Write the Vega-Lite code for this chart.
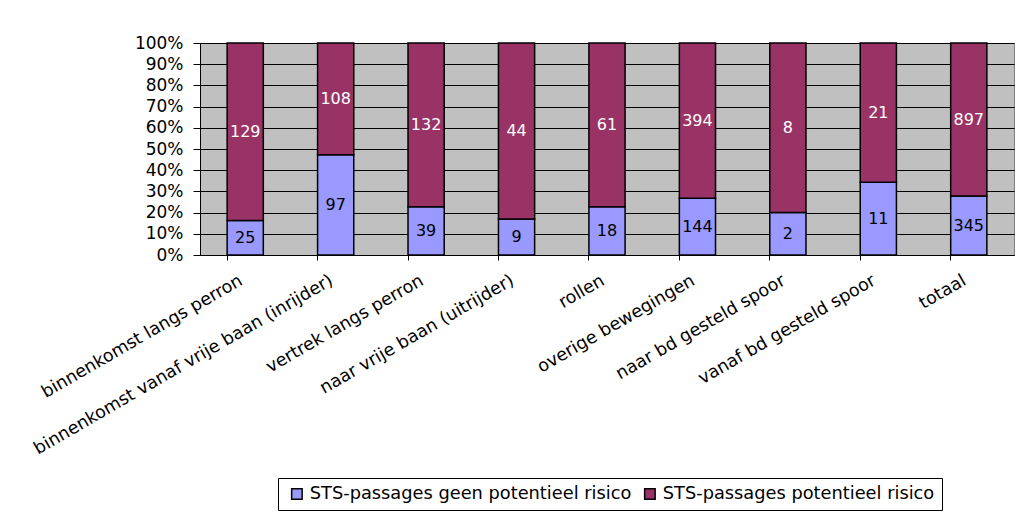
{
  "$schema": "https://vega.github.io/schema/vega-lite/v6.json",
  "width": 814,
  "height": 212,
  "autosize": {"type": "none"},
  "padding": {"left": 200, "top": 43, "right": 10, "bottom": 265},
  "background": "white",
  "config": {
    "font": "DejaVu Sans",
    "view": {"fill": "#C0C0C0", "stroke": "#808080", "strokeWidth": 1}
  },
  "data": {
    "values": [
      {"cat": "binnenkomst langs perron", "series": "STS-passages geen potentieel risico", "count": 25, "o": 1},
      {"cat": "binnenkomst langs perron", "series": "STS-passages potentieel risico", "count": 129, "o": 2},
      {"cat": "binnenkomst vanaf vrije baan (inrijder)", "series": "STS-passages geen potentieel risico", "count": 97, "o": 1},
      {"cat": "binnenkomst vanaf vrije baan (inrijder)", "series": "STS-passages potentieel risico", "count": 108, "o": 2},
      {"cat": "vertrek langs perron", "series": "STS-passages geen potentieel risico", "count": 39, "o": 1},
      {"cat": "vertrek langs perron", "series": "STS-passages potentieel risico", "count": 132, "o": 2},
      {"cat": "naar vrije baan (uitrijder)", "series": "STS-passages geen potentieel risico", "count": 9, "o": 1},
      {"cat": "naar vrije baan (uitrijder)", "series": "STS-passages potentieel risico", "count": 44, "o": 2},
      {"cat": "rollen", "series": "STS-passages geen potentieel risico", "count": 18, "o": 1},
      {"cat": "rollen", "series": "STS-passages potentieel risico", "count": 61, "o": 2},
      {"cat": "overige bewegingen", "series": "STS-passages geen potentieel risico", "count": 144, "o": 1},
      {"cat": "overige bewegingen", "series": "STS-passages potentieel risico", "count": 394, "o": 2},
      {"cat": "naar bd gesteld spoor", "series": "STS-passages geen potentieel risico", "count": 2, "o": 1},
      {"cat": "naar bd gesteld spoor", "series": "STS-passages potentieel risico", "count": 8, "o": 2},
      {"cat": "vanaf bd gesteld spoor", "series": "STS-passages geen potentieel risico", "count": 11, "o": 1},
      {"cat": "vanaf bd gesteld spoor", "series": "STS-passages potentieel risico", "count": 21, "o": 2},
      {"cat": "totaal", "series": "STS-passages geen potentieel risico", "count": 345, "o": 1},
      {"cat": "totaal", "series": "STS-passages potentieel risico", "count": 897, "o": 2}
    ]
  },
  "encoding": {
    "x": {
      "field": "cat", "type": "nominal", "sort": null,
      "scale": {"paddingInner": 0.6, "paddingOuter": 0.3},
      "axis": {
        "title": null, "labelAngle": -30, "labelAlign": "right", "labelBaseline": "middle",
        "labelFontSize": 17.5, "labelColor": "black", "labelPadding": 19, "labelLimit": 400,
        "labelOffset": -4, "bandPosition": 0,
        "domainColor": "black", "tickColor": "black", "tickSize": 5, "grid": false
      }
    }
  },
  "layer": [
    {
      "mark": {"type": "bar", "stroke": "black", "strokeWidth": 1.5},
      "encoding": {
        "y": {
          "field": "count", "type": "quantitative", "stack": "normalize",
          "axis": {
            "title": null, "format": ".0%", "values": [0, 0.1, 0.2, 0.3, 0.4, 0.5, 0.6, 0.7, 0.8, 0.9, 1],
            "labelFontSize": 17, "labelColor": "black", "labelPadding": 10, "labelOverlap": false,
            "domainColor": "black", "tickColor": "black", "tickSize": 7,
            "grid": true, "gridColor": "black", "gridOpacity": 1, "gridWidth": 1
          }
        },
        "order": {"field": "o", "type": "quantitative"},
        "color": {
          "field": "series", "type": "nominal",
          "scale": {"domain": ["STS-passages geen potentieel risico", "STS-passages potentieel risico"], "range": ["#9999FF", "#993366"]},
          "legend": {
            "title": null, "orient": "none", "direction": "horizontal",
            "legendX": 78, "legendY": 435,
            "labelFontSize": 17.8, "labelColor": "black", "labelLimit": 400,
            "symbolType": "square", "symbolSize": 110, "symbolStrokeColor": "black", "symbolStrokeWidth": 1.5,
            "strokeColor": "black", "fillColor": "white", "padding": 7, "columnPadding": 6, "symbolOffset": 3
          }
        }
      }
    },
    {
      "transform": [
        {"stack": "count", "groupby": ["cat"], "sort": [{"field": "o"}], "offset": "normalize", "as": ["y0", "y1"]},
        {"fold": ["y0", "y1"], "as": ["k", "v"]}
      ],
      "mark": {"type": "text", "fontSize": 16, "baseline": "middle"},
      "encoding": {
        "y": {
          "aggregate": "mean", "field": "v", "type": "quantitative",
          "axis": {
            "title": null, "format": ".0%", "values": [0, 0.1, 0.2, 0.3, 0.4, 0.5, 0.6, 0.7, 0.8, 0.9, 1],
            "labelFontSize": 17, "labelColor": "black", "labelPadding": 10, "labelOverlap": false,
            "domainColor": "black", "tickColor": "black", "tickSize": 7,
            "grid": true, "gridColor": "black", "gridOpacity": 1, "gridWidth": 1
          }
        },
        "detail": {"field": "series", "type": "nominal"},
        "text": {"aggregate": "max", "field": "count", "type": "quantitative"},
        "color": {
          "condition": {"test": "datum.series === 'STS-passages potentieel risico'", "value": "white"},
          "value": "black"
        }
      }
    }
  ]
}
